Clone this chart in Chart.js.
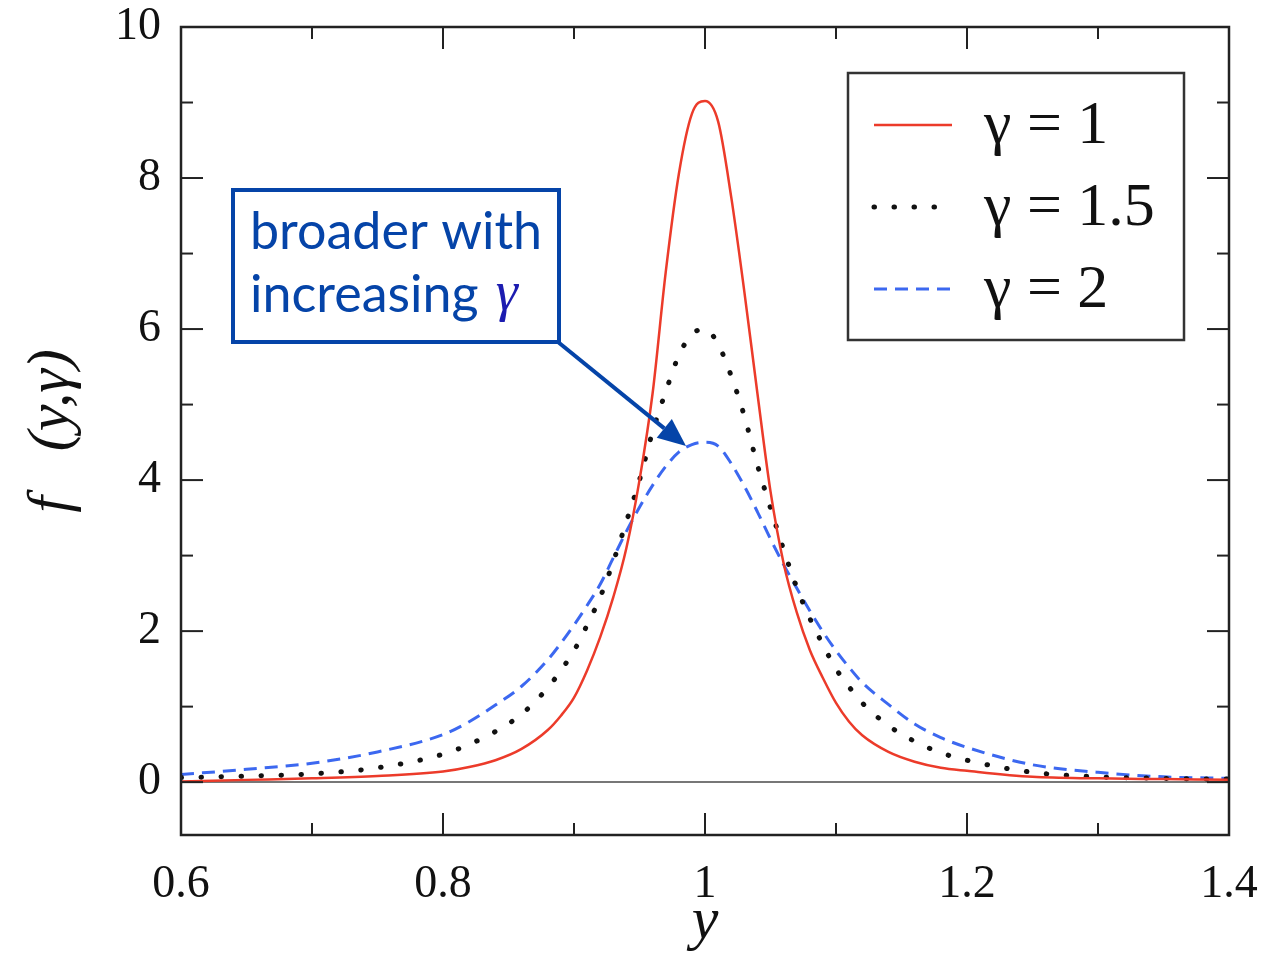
<!DOCTYPE html>
<html>
<head>
<meta charset="utf-8">
<script src="https://cdn.jsdelivr.net/npm/chart.js@4/dist/chart.umd.min.js"></script>
<style>
  html, body { margin: 0; padding: 0; background: #fff; }
  #wrap { width: 1264px; height: 958px; }
</style>
</head>
<body>
<div id="wrap"><canvas id="c" width="1264" height="958"></canvas></div>
<script>
const yPos = [0.60, 0.65, 0.70, 0.75, 0.80, 0.82, 0.84, 0.86, 0.88, 0.89, 0.90, 0.91, 0.92, 0.93, 0.94, 0.95, 0.96, 0.97, 0.98, 0.99, 1.00,
              1.01, 1.02, 1.03, 1.04, 1.05, 1.06, 1.07, 1.08, 1.09, 1.10, 1.11, 1.12, 1.14, 1.16, 1.18, 1.20, 1.25, 1.30, 1.35, 1.40];

const gamma1 = [0.01, 0.03, 0.05, 0.08, 0.14, 0.20, 0.29, 0.44, 0.69, 0.88, 1.12, 1.48, 1.92, 2.45, 3.10, 4.00, 5.15, 6.75, 8.05, 8.85, 9.02,
                8.75, 7.75, 6.50, 5.15, 3.85, 2.90, 2.25, 1.75, 1.38, 1.05, 0.80, 0.62, 0.40, 0.27, 0.19, 0.15, 0.07, 0.05, 0.04, 0.03];
const gamma15 = [0.06, 0.08, 0.11, 0.19, 0.37, 0.50, 0.67, 0.90, 1.25, 1.48, 1.74, 2.08, 2.45, 2.92, 3.45, 4.00, 4.64, 5.17, 5.65, 5.93, 6.00,
                 5.80, 5.38, 4.85, 4.20, 3.63, 3.08, 2.58, 2.17, 1.82, 1.50, 1.26, 1.05, 0.75, 0.54, 0.39, 0.29, 0.13, 0.07, 0.05, 0.04];
const gamma2 = [0.10, 0.17, 0.25, 0.40, 0.63, 0.80, 1.02, 1.27, 1.62, 1.84, 2.08, 2.34, 2.62, 2.97, 3.32, 3.64, 3.93, 4.18, 4.37, 4.47, 4.50,
                4.45, 4.22, 3.92, 3.58, 3.22, 2.88, 2.57, 2.27, 1.99, 1.74, 1.52, 1.32, 1.03, 0.77, 0.59, 0.46, 0.23, 0.13, 0.07, 0.05];

const seriesLabels = ["γ = 1", "γ = 1.5", "γ = 2"];

const xTicks = [0.6, 0.8, 1, 1.2, 1.4];
const xMinor = [0.7, 0.9, 1.1, 1.3];
const yTicks = [0, 2, 4, 6, 8, 10];
const yMinor = [1, 3, 5, 7, 9];

const pts = vals => vals.map((v, i) => ({ x: yPos[i], y: v }));

const serif = '"Liberation Serif", "Times New Roman", serif';
const blue = "#0544a8";

const decor = {
  id: "decor",
  afterDraw(chart) {
    const { ctx, chartArea: a, scales: { x, y } } = chart;
    ctx.save();
    ctx.strokeStyle = "#222";
    ctx.lineWidth = 2;
    const seg = (x1, y1, x2, y2) => { ctx.beginPath(); ctx.moveTo(x1, y1); ctx.lineTo(x2, y2); ctx.stroke(); };

    // inward ticks on all four sides
    xTicks.forEach(v => { const p = x.getPixelForValue(v); seg(p, a.bottom, p, a.bottom - 22); seg(p, a.top, p, a.top + 22); });
    xMinor.forEach(v => { const p = x.getPixelForValue(v); seg(p, a.bottom, p, a.bottom - 12); seg(p, a.top, p, a.top + 12); });
    yTicks.forEach(v => { const p = y.getPixelForValue(v); seg(a.left, p, a.left + 22, p); seg(a.right, p, a.right - 22, p); });
    yMinor.forEach(v => { const p = y.getPixelForValue(v); seg(a.left, p, a.left + 12, p); seg(a.right, p, a.right - 12, p); });
    ctx.lineWidth = 2.5;
    ctx.strokeRect(a.left, a.top, a.right - a.left, a.bottom - a.top);

    // legend box
    ctx.lineWidth = 2.5;
    ctx.strokeStyle = "#333";
    ctx.strokeRect(848, 73, 336, 267);
    const rows = [125, 207, 289];
    chart.data.datasets.forEach((ds, i) => {
      ctx.save();
      ctx.strokeStyle = ds.borderColor;
      ctx.lineWidth = ds.borderWidth;
      ctx.lineCap = ds.borderCapStyle || "butt";
      ctx.setLineDash(ds.borderDash || []);
      seg(874, rows[i], 952, rows[i]);
      ctx.restore();
      ctx.fillStyle = "#111";
      ctx.font = "62px " + serif;
      ctx.textBaseline = "middle";
      ctx.fillText(ds.label, 984, rows[i] + 2);
    });

    // annotation box
    ctx.strokeStyle = blue;
    ctx.fillStyle = blue;
    ctx.lineWidth = 4;
    ctx.strokeRect(233, 190, 326, 152);
    ctx.font = '52px Lato, "Open Sans", sans-serif';
    ctx.textBaseline = "alphabetic";
    ctx.fillText("broader with", 250, 249);
    ctx.fillText("increasing", 250, 312);
    const w = ctx.measureText("increasing ").width;
    ctx.fillStyle = "#1c1cb0";
    ctx.font = "italic 56px " + serif;
    ctx.fillText("γ", 250 + w + 4, 310);

    // arrow
    ctx.strokeStyle = blue;
    ctx.fillStyle = blue;
    ctx.lineWidth = 4;
    const x0 = 558, y0 = 342, x1 = 686, y1 = 446;
    const ang = Math.atan2(y1 - y0, x1 - x0);
    const hl = 28, hw = 12;
    const bx = x1 - hl * Math.cos(ang), by = y1 - hl * Math.sin(ang);
    seg(x0, y0, bx, by);
    ctx.beginPath();
    ctx.moveTo(x1, y1);
    ctx.lineTo(bx + hw * Math.sin(ang), by - hw * Math.cos(ang));
    ctx.lineTo(bx - hw * Math.sin(ang), by + hw * Math.cos(ang));
    ctx.closePath();
    ctx.fill();
    ctx.restore();
  }
};

new Chart(document.getElementById("c"), {
  type: "scatter",
  data: {
    datasets: [
      {
        label: seriesLabels[0],
        data: pts(gamma1),
        showLine: true,
        borderColor: "#ec3b2a",
        borderWidth: 2.5,
        pointRadius: 0,
        cubicInterpolationMode: "monotone",
      },
      {
        label: seriesLabels[1],
        data: pts(gamma15),
        showLine: true,
        borderColor: "#111",
        borderWidth: 5,
        borderDash: [0.5, 19.5],
        borderCapStyle: "round",
        pointRadius: 0,
        cubicInterpolationMode: "monotone",
      },
      {
        label: seriesLabels[2],
        data: pts(gamma2),
        showLine: true,
        borderColor: "#3c68f0",
        borderWidth: 3,
        borderDash: [13, 8],
        pointRadius: 0,
        cubicInterpolationMode: "monotone",
      }
    ]
  },
  options: {
    responsive: false,
    animation: false,
    layout: { padding: { top: 27, right: 35, left: 0, bottom: 0 } },
    plugins: { legend: { display: false }, tooltip: { enabled: false } },
    scales: {
      x: {
        type: "linear",
        min: 0.6,
        max: 1.4,
        afterBuildTicks: s => { s.ticks = xTicks.map(v => ({ value: v })); },
        afterFit: s => { s.height = 123; s.paddingLeft = 0; s.paddingRight = 0; },
        grid: { display: false, drawTicks: false },
        border: { display: false },
        ticks: {
          padding: 22,
          color: "#111",
          font: { family: serif, size: 46 },
          maxRotation: 0,
          callback: v => String(v)
        },
        title: {
          display: true,
          text: "y",
          color: "#111",
          font: { family: serif, size: 60, style: "italic" },
          padding: { top: -10, bottom: 0 }
        }
      },
      y: {
        min: -0.7,
        max: 10,
        afterBuildTicks: s => { s.ticks = yTicks.map(v => ({ value: v })); },
        afterFit: s => { s.width = 181; s.paddingTop = 0; s.paddingBottom = 0; },
        grid: {
          drawTicks: false,
          color: c => (c.tick && c.tick.value === 0 ? "#777" : "rgba(0,0,0,0)"),
          lineWidth: 2
        },
        border: { display: false },
        ticks: {
          padding: 20,
          color: "#111",
          font: { family: serif, size: 46 },
          callback: v => String(v)
        },
        title: {
          display: true,
          text: "f   (y,γ)",
          color: "#111",
          font: { family: serif, size: 60, style: "italic" },
          padding: { top: 16, bottom: 20 }
        }
      }
    }
  },
  plugins: [decor]
});
</script>
</body>
</html>
